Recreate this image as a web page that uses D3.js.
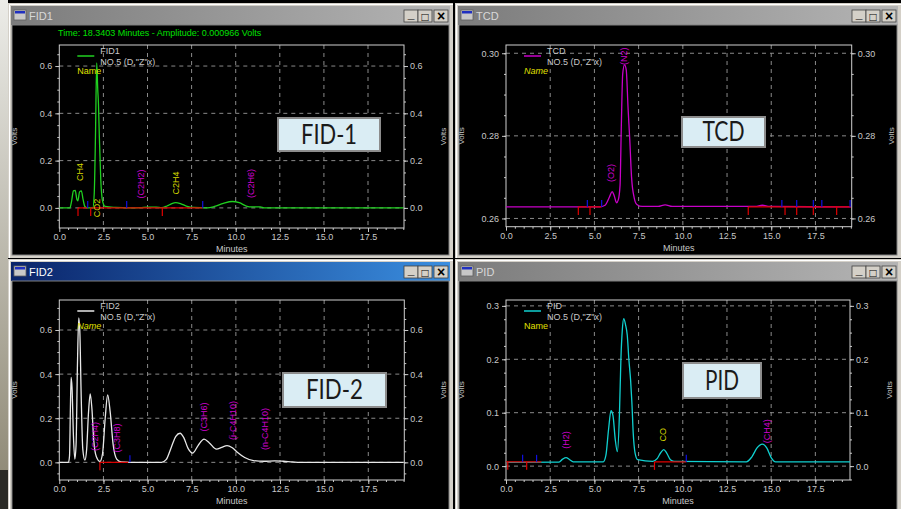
<!DOCTYPE html>
<html>
<head>
<meta charset="utf-8">
<script src="https://cdn.jsdelivr.net/npm/d3@7"></script>
<style>
  html, body { margin: 0; padding: 0; background: #000; overflow: hidden; }
  svg { display: block; }
</style>
</head>
<body>
<svg id="chart" width="901" height="509"></svg>
<script>
'use strict'

// ---- data ----
const minuteTicks = [0, 2.5, 5, 7.5, 10, 12.5, 15, 17.5]
const fidVoltTicks = [0, 0.2, 0.4, 0.6]
const tcdVoltTicks = [0.26, 0.28, 0.30]
const pidVoltTicks = [0, 0.1, 0.2, 0.3]

// [minutes, volts]
const fid1Trace = [[0,0],[0.6,0],[0.7,0.03],[0.8,0.072],[0.9,0.074],[1.0,0.035],[1.05,0.03],[1.15,0.068],[1.25,0.072],
  [1.35,0.035],[1.45,0.006],[1.6,0],[1.9,0],[1.98,0.06],[2.05,0.3],[2.12,0.613],[2.18,0.5],[2.22,0.44],[2.27,0.3],
  [2.35,0.12],[2.45,0.03],[2.6,0.006],[3.2,0.002],[4.0,0],[4.6,0.001],[5.0,0.003],[5.5,0.003],[5.8,0.001],
  [6.1,0.008],[6.35,0.017],[6.6,0.022],[6.9,0.017],[7.2,0.008],[7.6,0.002],[8.4,0],[8.8,0.006],[9.3,0.019],
  [9.8,0.027],[10.2,0.022],[10.6,0.008],[10.9,0.004],[11.4,0.004],[11.6,0],[19.5,0]]

const tcdTrace = [[0,0.2628],[5.3,0.2628],[5.6,0.2632],[5.85,0.2652],[6.0,0.2665],[6.12,0.2655],[6.25,0.2638],
  [6.35,0.2645],[6.45,0.268],[6.52,0.282],[6.6,0.295],[6.7,0.2972],[6.8,0.296],[6.9,0.287],[7.0,0.279],
  [7.1,0.27],[7.25,0.265],[7.4,0.2634],[7.7,0.2629],[8.6,0.2629],[9.0,0.2633],[9.4,0.2629],[14.1,0.2629],
  [14.5,0.2632],[14.9,0.2629],[19.5,0.2628]]

const fid2Trace = [[0,0],[0.52,0],[0.58,0.03],[0.63,0.25],[0.67,0.385],[0.72,0.34],[0.8,0.12],[0.88,0.015],
  [0.95,0.08],[1.03,0.45],[1.1,0.655],[1.16,0.6],[1.24,0.3],[1.33,0.06],[1.45,0.01],[1.55,0.06],[1.65,0.22],
  [1.75,0.31],[1.85,0.24],[1.95,0.1],[2.1,0.025],[2.3,0.004],[2.45,0.04],[2.6,0.2],[2.74,0.306],[2.88,0.23],
  [3.05,0.08],[3.25,0.015],[3.5,0.002],[4,0],[5.8,0],[6.05,0.012],[6.35,0.07],[6.6,0.118],[6.84,0.132],
  [7.05,0.112],[7.3,0.062],[7.55,0.042],[7.85,0.075],[8.2,0.105],[8.5,0.088],[8.9,0.06],[9.2,0.068],
  [9.5,0.076],[9.8,0.066],[10.1,0.045],[10.5,0.022],[11,0.008],[11.6,0.005],[12.2,0.007],[12.7,0.005],
  [13.2,0.002],[13.65,0],[19.5,0]]

const pidTrace = [[0,0.007],[3.0,0.0075],[3.2,0.013],[3.4,0.016],[3.6,0.012],[3.8,0.008],[5.5,0.008],
  [5.65,0.02],[5.8,0.068],[5.94,0.104],[6.05,0.095],[6.18,0.05],[6.3,0.027],[6.42,0.1],[6.5,0.2],
  [6.58,0.255],[6.66,0.276],[6.76,0.265],[6.86,0.245],[6.95,0.2],[7.05,0.16],[7.12,0.12],[7.2,0.06],
  [7.3,0.025],[7.45,0.012],[8.3,0.009],[8.55,0.014],[8.75,0.025],[8.92,0.031],[9.1,0.024],[9.3,0.012],
  [9.5,0.009],[13.6,0.008],[13.9,0.017],[14.2,0.034],[14.5,0.041],[14.75,0.034],[15.0,0.016],[15.25,0.008],
  [19.5,0.008]]

// peak names: [text, minutes, volts, colour]
const fid1Names = [['CH4',1.17,0.152,'#d8d800'],['CO2',2.14,0.0,'#d8d800'],['(C2H2)',4.63,0.101,'#d000d0'],
  ['C2H4',6.61,0.105,'#d8d800'],['(C2H6)',10.86,0.103,'#d000d0']]
const tcdNames = [['(N2)',6.67,0.2993,'#d000d0'],['(O2)',5.94,0.271,'#d000d0']]
const fid2Names = [['(C2H4)',2.02,0.117,'#d000d0'],['(C3H8)',3.25,0.11,'#d000d0'],['(C3H6)',8.2,0.206,'#d000d0'],
  ['(i-C4H10)',9.85,0.19,'#d000d0'],['(n-C4H10)',11.66,0.151,'#d000d0']]
const pidNames = [['(H2)',3.37,0.0487,'#d000d0'],['CO',8.88,0.0586,'#d8d800'],['(CH4)',14.74,0.0655,'#d000d0']]

// integration marks (minutes)
const fid1Red = [1.06, 1.78, 5.84]
const fid1Blue = [1.61, 3.82, 8.13]
const fid1Base = [[1.06, 1.61], [1.78, 8.13]]
const tcdRed = [4.09, 4.75, 13.7, 15.78, 16.44, 17.38, 18.7]
const tcdBlue = [4.6, 5.41, 15.6, 16.44, 17.38, 17.86, 19.46]
const tcdBase = [[4.09, 5.41], [13.7, 19.5]]
const fid2Red = [2.3]
const fid2Blue = [4.0]
const fid2Base = [[2.3, 3.9]]
const pidRed = [0.1, 1.17, 8.4]
const pidBlue = [0.94, 1.73, 10.2]
const pidBase = [[0, 2.0], [8.4, 10.2]]

// ---- drawing ----
const FONT = '"Liberation Sans", Arial, sans-serif'
const AXIS = '#c8c8c8'
const svg = d3.select('#chart')
const defs = svg.append('defs')

function gradient (id, c1, c2, vertical) {
  const lg = defs.append('linearGradient').attr('id', id)
  if (vertical) lg.attr('x1', 0).attr('x2', 0).attr('y1', 0).attr('y2', 1)
  lg.append('stop').attr('offset', '0%').attr('stop-color', c1)
  lg.append('stop').attr('offset', '100%').attr('stop-color', c2)
}
gradient('inactive', '#7c7c7c', '#b4b4b4')
gradient('active', '#0a246a', '#3a8ee0')
gradient('photo', '#ecece8', '#8a8470', true)

// left strip (a bit of the desktop behind)
svg.append('rect').attr('x', 0).attr('y', 0).attr('width', 8).attr('height', 509).attr('fill', 'url(#photo)')
svg.append('rect').attr('x', 0).attr('y', 470).attr('width', 8).attr('height', 39).attr('fill', '#2a2a26')

function drawWindow (w) {
  const g = svg.append('g')
  g.append('rect').attr('x', w.x).attr('y', w.y).attr('width', w.w).attr('height', w.h).attr('fill', '#d4d0c8')
  g.append('path').attr('d', `M${w.x + 1.5},${w.y + w.h}V${w.y + 1.5}H${w.x + w.w}`)
    .attr('fill', 'none').attr('stroke', '#ffffff')
  g.append('rect').attr('x', w.x + 3).attr('y', w.y + 3).attr('width', w.w - 6).attr('height', 19)
    .attr('fill', w.active ? 'url(#active)' : 'url(#inactive)')
  // icon
  g.append('rect').attr('x', w.x + 6).attr('y', w.y + 7).attr('width', 12).attr('height', 10)
    .attr('fill', '#c8c8c8').attr('stroke', '#606060').attr('stroke-width', 0.8)
  g.append('rect').attr('x', w.x + 7).attr('y', w.y + 8).attr('width', 10).attr('height', 2.5).attr('fill', '#2030c0')
  g.append('text').attr('x', w.x + 21).attr('y', w.y + 17)
    .attr('fill', w.active ? '#ffffff' : '#d8d8d8')
    .style('font-family', FONT).style('font-size', '11px').text(w.title)
  // caption buttons
  const bx = [w.w - 49, w.w - 35, w.w - 19]
  const glyph = ['_', '□', '×']
  bx.forEach(function (b, i) {
    g.append('rect').attr('x', w.x + b).attr('y', w.y + 7).attr('width', 14).attr('height', 12)
      .attr('fill', '#d4d0c8').attr('stroke', '#404040').attr('stroke-width', 0.8)
    g.append('text').attr('x', w.x + b + 7).attr('y', w.y + (i === 0 ? 15 : 17.5)).attr('text-anchor', 'middle')
      .attr('fill', '#000').style('font-family', FONT)
      .style('font-size', i === 2 ? '14px' : '12px').style('font-weight', 'bold').text(glyph[i])
  })
  g.append('rect').attr('x', w.x + 4).attr('y', w.y + 22).attr('width', w.w - 8).attr('height', w.h - 25)
    .attr('fill', '#000').attr('stroke', '#808080').attr('stroke-width', 1)
}

drawWindow({ x: 8, y: 3, w: 445, h: 255, title: 'FID1', active: false })
drawWindow({ x: 455, y: 3, w: 446, h: 255, title: 'TCD', active: false })
drawWindow({ x: 8, y: 259, w: 445, h: 260, title: 'FID2', active: true })
drawWindow({ x: 455, y: 259, w: 446, h: 260, title: 'PID', active: false })

function styleAxis (sel) {
  sel.select('.domain').remove()
  sel.selectAll('line').attr('stroke', AXIS)
  sel.selectAll('text').attr('fill', AXIS).style('font-family', FONT).style('font-size', '9px')
}

let clipId = 0
function drawPanel (p) {
  const x = d3.scaleLinear().domain(p.xDomain).range([p.left, p.right])
  const y = d3.scaleLinear().domain(p.yDomain).range([p.bottom, p.top])
  const g = svg.append('g')

  // grid
  g.selectAll('.vg').data(minuteTicks.slice(1)).join('line')
    .attr('x1', d => x(d)).attr('x2', d => x(d)).attr('y1', p.top).attr('y2', p.bottom)
    .attr('stroke', '#8a8a8a').attr('stroke-dasharray', '4,4')
  g.selectAll('.hg').data(p.yTicks).join('line')
    .attr('x1', p.left).attr('x2', p.right).attr('y1', d => y(d)).attr('y2', d => y(d))
    .attr('stroke', '#8a8a8a').attr('stroke-dasharray', '4,4')

  // axes
  const minorY = d3.range(p.yDomain[0], p.yDomain[1], p.yMinor)
    .map(v => Math.ceil(v / p.yMinor) * p.yMinor)
    .filter(v => v >= p.yDomain[0] && v <= p.yDomain[1])
  const minorX = d3.range(0.5, p.xDomain[1], 0.5)
  g.append('g').attr('transform', `translate(${p.left},0)`)
    .call(d3.axisLeft(y).tickValues(minorY).tickSize(2).tickFormat('')).call(styleAxis)
  g.append('g').attr('transform', `translate(${p.left},0)`)
    .call(d3.axisLeft(y).tickValues(p.yTicks).tickSize(4).tickPadding(3).tickFormat(d3.format(p.yFormat))).call(styleAxis)
  g.append('g').attr('transform', `translate(${p.right},0)`)
    .call(d3.axisRight(y).tickValues(minorY).tickSize(2).tickFormat('')).call(styleAxis)
  g.append('g').attr('transform', `translate(${p.right},0)`)
    .call(d3.axisRight(y).tickValues(p.yTicks).tickSize(4).tickPadding(2).tickFormat(d3.format(p.yFormat))).call(styleAxis)
  g.append('g').attr('transform', `translate(0,${p.bottom})`)
    .call(d3.axisBottom(x).tickValues(minorX).tickSize(2).tickFormat('')).call(styleAxis)
  g.append('g').attr('transform', `translate(0,${p.bottom})`)
    .call(d3.axisBottom(x).tickValues(minuteTicks).tickSize(4).tickPadding(2).tickFormat(d3.format('.1f'))).call(styleAxis)

  g.append('rect').attr('x', p.left).attr('y', p.top).attr('width', p.right - p.left).attr('height', p.bottom - p.top)
    .attr('fill', 'none').attr('stroke', '#d0d0d0')

  g.append('text').attr('x', (p.left + p.right) / 2).attr('y', p.bottom + 24).attr('text-anchor', 'middle')
    .attr('fill', AXIS).style('font-family', FONT).style('font-size', '9px').text('Minutes')
  const midY = (p.top + p.bottom) / 2
  ;[p.left - 42, p.right + 42].forEach(function (vx) {
    g.append('text').attr('transform', `translate(${vx},${midY}) rotate(-90)`).attr('text-anchor', 'middle')
      .attr('fill', AXIS).style('font-family', FONT).style('font-size', '8px').text('Volts')
  })

  // trace
  const id = 'clip' + (clipId++)
  defs.append('clipPath').attr('id', id).append('rect')
    .attr('x', p.left).attr('y', p.top).attr('width', p.right - p.left).attr('height', p.bottom - p.top)
  g.append('path').datum(p.trace).attr('clip-path', `url(#${id})`)
    .attr('fill', 'none').attr('stroke', p.color).attr('stroke-width', 1.3)
    .attr('d', d3.line().x(d => x(d[0])).y(d => y(d[1])).curve(d3.curveMonotoneX))

  // integration baseline and marks
  g.selectAll('.base').data(p.base).join('line')
    .attr('x1', d => x(d[0])).attr('x2', d => x(d[1])).attr('y1', y(p.baseVolts)).attr('y2', y(p.baseVolts))
    .attr('stroke', '#e00000').attr('stroke-width', 1.2)
  g.selectAll('.red').data(p.red).join('line')
    .attr('x1', d => x(d)).attr('x2', d => x(d)).attr('y1', y(p.baseVolts)).attr('y2', y(p.baseVolts) + 8)
    .attr('stroke', '#e00000').attr('stroke-width', 1.2)
  g.selectAll('.blue').data(p.blue).join('line')
    .attr('x1', d => x(d)).attr('x2', d => x(d)).attr('y1', y(p.baseVolts)).attr('y2', y(p.baseVolts) - 7)
    .attr('stroke', '#1010e0').attr('stroke-width', 1.2)

  // peak names
  g.selectAll('.pk').data(p.names).join('text')
    .attr('transform', d => `translate(${x(d[1])},${y(d[2])}) rotate(-90)`)
    .attr('text-anchor', 'middle').attr('dominant-baseline', 'central')
    .attr('fill', d => d[3]).style('font-family', FONT).style('font-size', '9px').text(d => d[0])

  // legend
  g.append('line').attr('x1', p.left + 18).attr('x2', p.left + 35).attr('y1', p.top + 11).attr('y2', p.top + 11)
    .attr('stroke', p.color).attr('stroke-width', 1.5)
  g.append('text').attr('x', p.left + 41).attr('y', p.top + 9).attr('fill', AXIS)
    .style('font-family', FONT).style('font-size', '9px').text(p.name)
  g.append('text').attr('x', p.left + 41).attr('y', p.top + 20).attr('fill', AXIS)
    .style('font-family', FONT).style('font-size', '9px').text('NO.5 (D,"Z"x)')
  g.append('text').attr('x', p.left + 18).attr('y', p.top + 29).attr('fill', '#e0e000')
    .style('font-family', FONT).style('font-size', '9px').style('font-style', p.italic ? 'italic' : 'normal').text('Name')

  // big caption box
  const b = p.box
  g.append('rect').attr('x', b[0]).attr('y', b[1]).attr('width', b[2]).attr('height', b[3])
    .attr('fill', '#daedf4').attr('stroke', '#8c8c8c').attr('stroke-width', 2)
  g.append('text').attr('x', b[0] + b[2] / 2).attr('y', b[1] + b[3] / 2 + 9).attr('text-anchor', 'middle')
    .attr('fill', '#1a1a1a').style('font-family', 'Lato, "Open Sans", sans-serif').style('font-size', '26px')
    .attr('textLength', b[4]).attr('lengthAdjust', 'spacingAndGlyphs').text(p.caption)
}

drawPanel({
  left: 59.3, right: 404, top: 45, bottom: 228, xDomain: [0, 19.54], yDomain: [-0.085, 0.689],
  yTicks: fidVoltTicks, yMinor: 0.05, yFormat: '.1f', trace: fid1Trace, color: '#20d020',
  base: fid1Base, red: fid1Red, blue: fid1Blue, baseVolts: 0, names: fid1Names,
  name: 'FID1', italic: false, caption: 'FID-1', box: [278, 118, 102, 33, 56]
})
drawPanel({
  left: 506, right: 851.7, top: 45, bottom: 226.7, xDomain: [0, 19.55], yDomain: [0.2580, 0.3020],
  yTicks: tcdVoltTicks, yMinor: 0.005, yFormat: '.2f', trace: tcdTrace, color: '#c800c8',
  base: tcdBase, red: tcdRed, blue: tcdBlue, baseVolts: 0.2628, names: tcdNames,
  name: 'TCD', italic: true, caption: 'TCD', box: [682, 117, 83, 30, 42]
})
drawPanel({
  left: 59.3, right: 404.3, top: 300, bottom: 480, xDomain: [0, 19.54], yDomain: [-0.080, 0.736],
  yTicks: fidVoltTicks, yMinor: 0.05, yFormat: '.1f', trace: fid2Trace, color: '#e8e8e8',
  base: fid2Base, red: fid2Red, blue: fid2Blue, baseVolts: 0, names: fid2Names,
  name: 'FID2', italic: true, caption: 'FID-2', box: [283, 373, 103, 34, 57]
})
drawPanel({
  left: 506, right: 850, top: 300, bottom: 480, xDomain: [0, 19.46], yDomain: [-0.026, 0.311],
  yTicks: pidVoltTicks, yMinor: 0.025, yFormat: '.1f', trace: pidTrace, color: '#10d0d0',
  base: pidBase, red: pidRed, blue: pidBlue, baseVolts: 0.008, names: pidNames,
  name: 'PID', italic: false, caption: 'PID', box: [683, 363, 78, 35, 34]
})

// status line at the top of FID1
svg.append('text').attr('x', 58).attr('y', 36).attr('fill', '#00e000')
  .style('font-family', FONT).style('font-size', '9px')
  .text('Time:  18.3403 Minutes - Amplitude:  0.000966 Volts')
</script>
</body>
</html>
